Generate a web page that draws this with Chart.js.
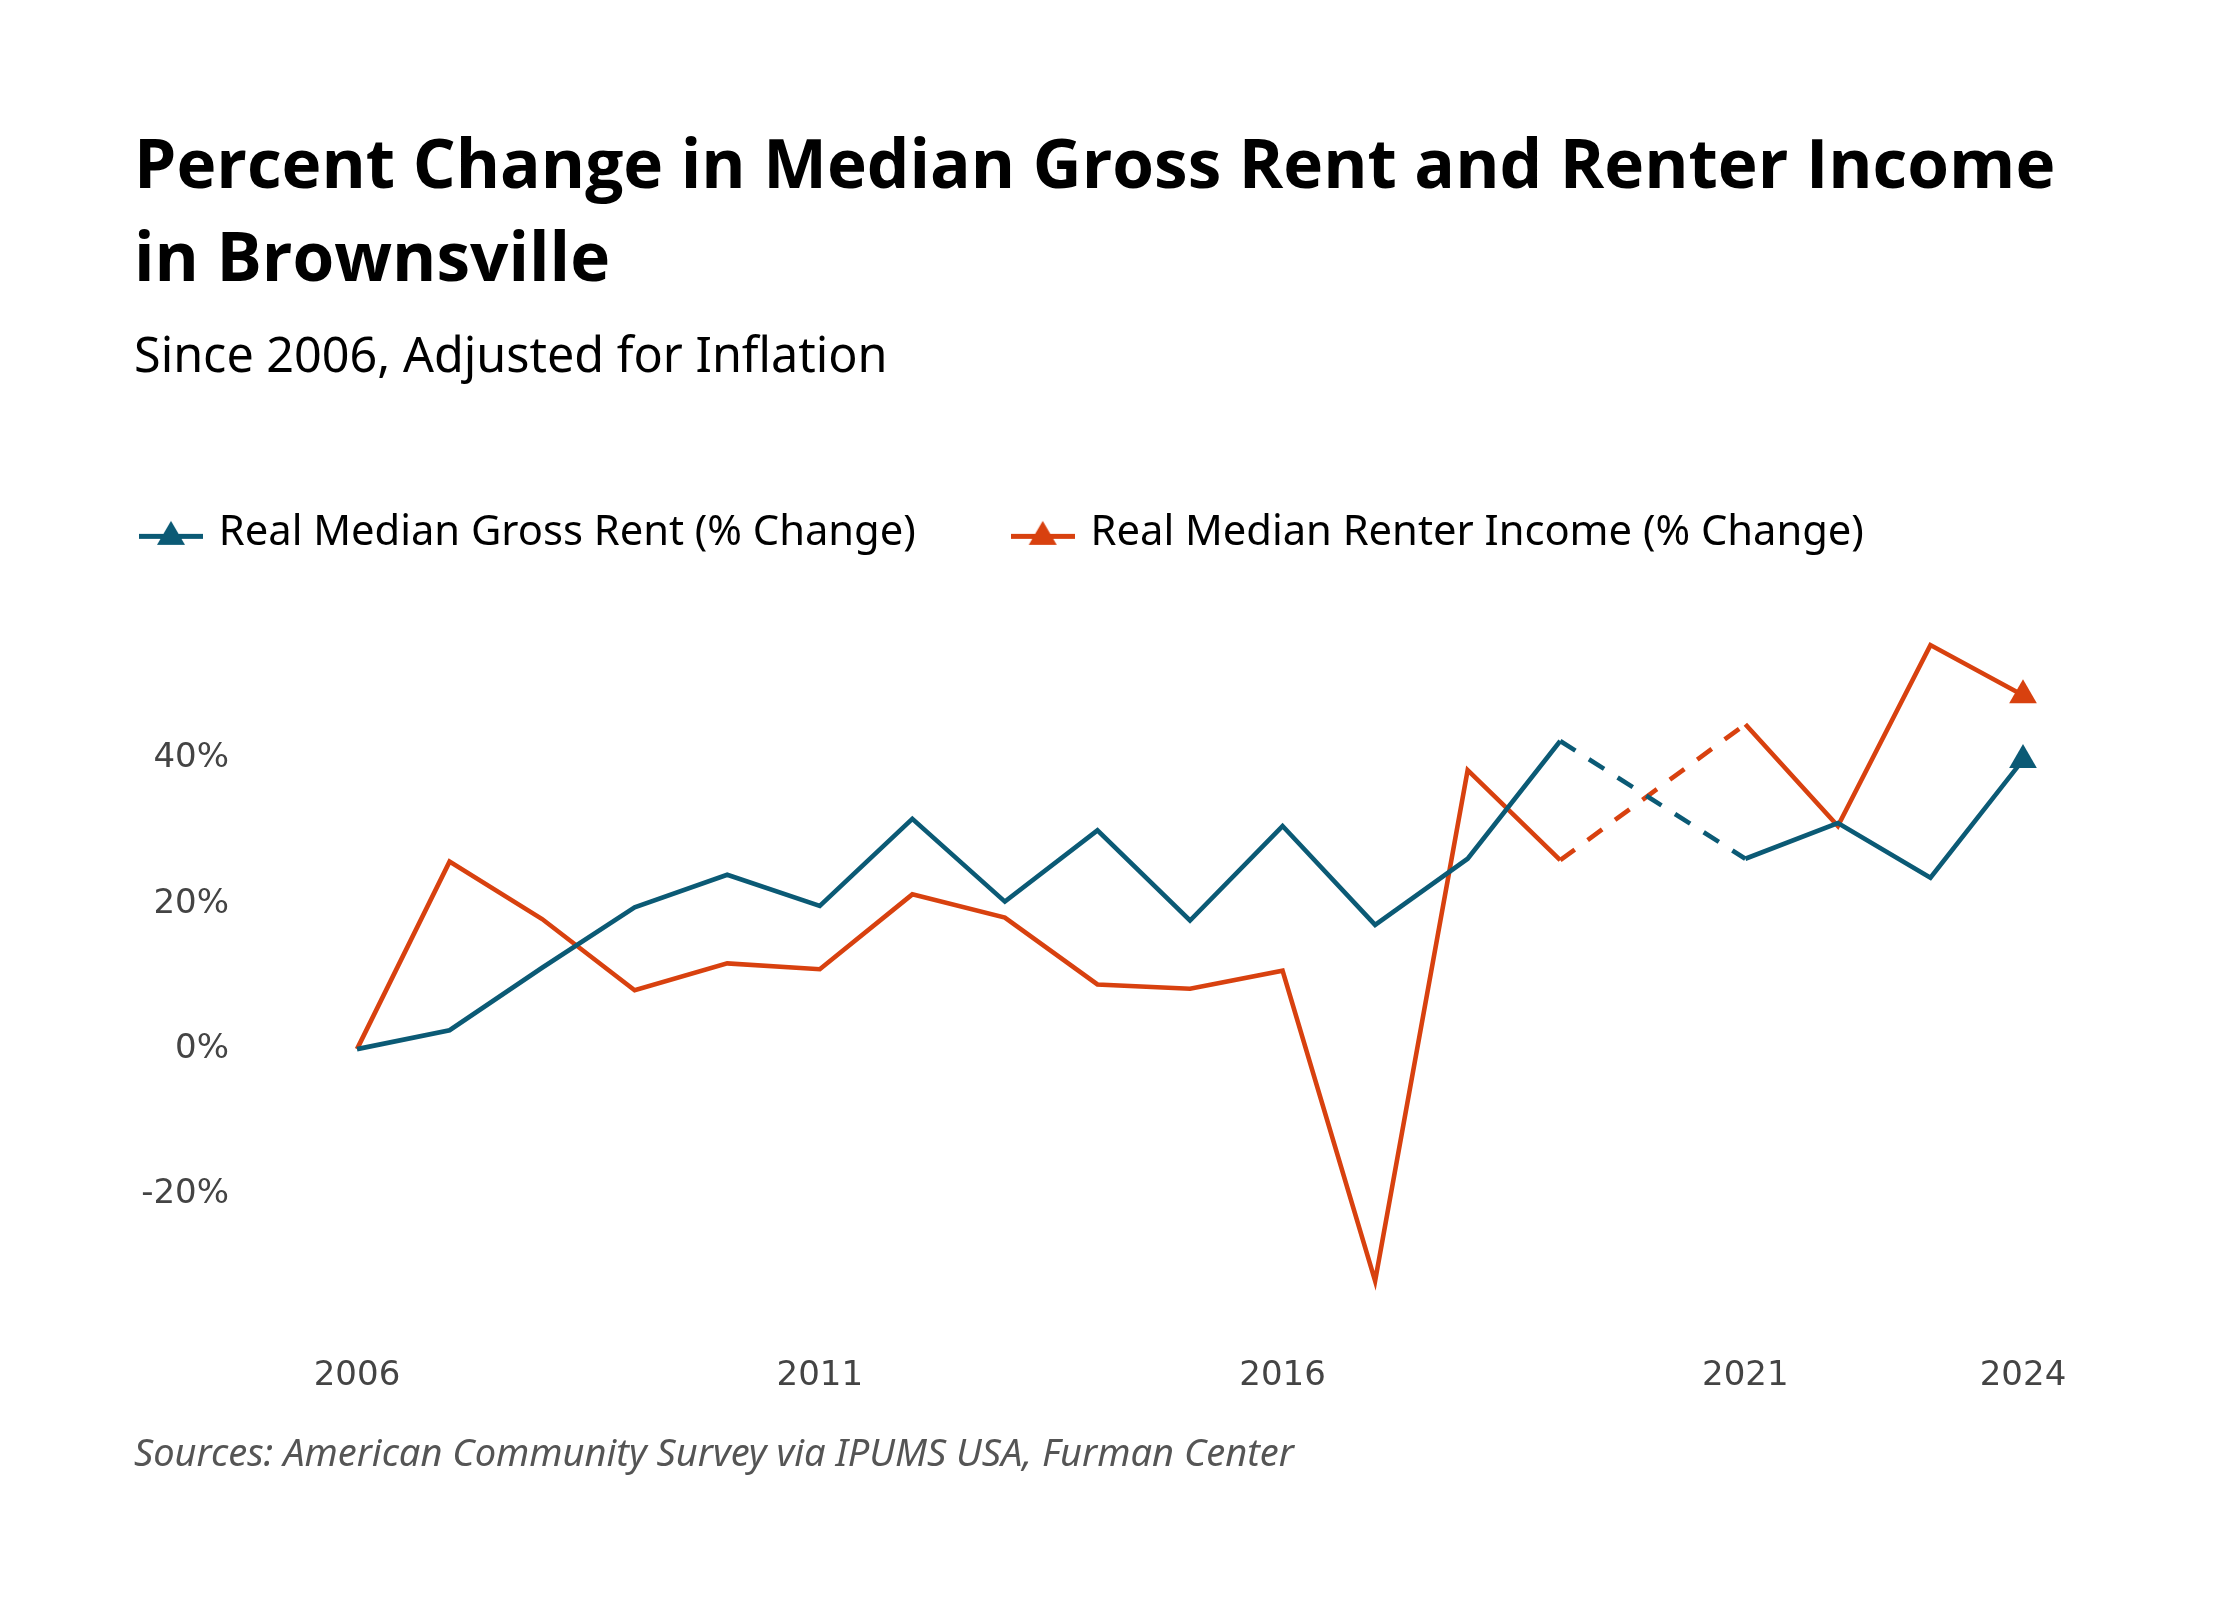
<!DOCTYPE html>
<html>
<head>
<meta charset="utf-8">
<script src="https://cdn.jsdelivr.net/npm/chart.js@4.4.1/dist/chart.umd.min.js"></script>
<style>
  body { margin: 0; background: #fff; width: 2240px; height: 1600px; position: relative; font-family: "Noto Sans", sans-serif; }
  #title { position: absolute; left: 134px; top: 116px; font-family: "Open Sans", sans-serif; font-weight: 700; font-size: 67.5px; line-height: 93px; color: #000; margin: 0; }
  #subtitle { position: absolute; left: 134px; top: 320px; font-size: 48.5px; color: #000; margin: 0; }
  #source { position: absolute; left: 134px; top: 1425px; font-size: 38px; font-style: italic; color: #555; margin: 0; }
  #wrap { position: absolute; left: 0; top: 412px; width: 2240px; height: 1057px; }
</style>
</head>
<body>
<h1 id="title">Percent Change in Median Gross Rent and Renter Income<br>in Brownsville</h1>
<p id="subtitle">Since 2006, Adjusted for Inflation</p>
<div id="wrap"><canvas id="grafico"></canvas></div>
<p id="source">Sources: American Community Survey via IPUMS USA, Furman Center</p>
<script>
const anos = ["2006", "2007", "2008", "2009", "2010", "2011", "2012", "2013", "2014", "2015",
  "2016", "2017", "2018", "2019", "2020", "2021", "2022", "2023", "2024"];
// 2020 sem dado (linha tracejada)
const aluguel = [0, 2.6, 11.2, 19.5, 24, 19.7, 31.7, 20.3, 30.1, 17.7,
  30.7, 17.1, 26.2, 42.4, null, 26.2, 31.1, 23.6, 39.8];
const renda = [0, 25.8, 17.9, 8.1, 11.8, 11.0, 21.3, 18.1, 8.9, 8.3,
  10.8, -31.9, 38.4, 26.0, null, 44.7, 30.7, 55.6, 48.7];
const rotulosX = ["2006", "2011", "2016", "2021", "2024"];
const ticksY = [-20, 0, 20, 40];

const azul = "#0b5a75";
const laranja = "#d8410f";

// marcador da legenda: linha com triangulo
function marcador(cor) {
  const c = document.createElement("canvas");
  c.width = 64;
  c.height = 30;
  const g = c.getContext("2d");
  g.fillStyle = cor;
  g.fillRect(0, 16, 64, 5);
  g.beginPath();
  g.moveTo(32, 3);
  g.lineTo(46, 27);
  g.lineTo(18, 27);
  g.closePath();
  g.fill();
  return c;
}

const tracejado = (ctx) => (ctx.p0.skip || ctx.p1.skip ? [18, 16] : undefined);
const ultimo = (n) => anos.map((a, i) => (i === anos.length - 1 ? n : 0));

function serie(label, dados, cor) {
  return {
    label: label,
    data: dados,
    borderColor: cor,
    backgroundColor: cor,
    borderWidth: 4.6,
    pointStyle: "triangle",
    pointRadius: ultimo(16),
    pointHoverRadius: ultimo(16),
    pointBorderWidth: 0,
    tension: 0,
    spanGaps: true,
    clip: false,
    segment: { borderDash: tracejado },
  };
}

const ctx = document.getElementById("grafico");
new Chart(ctx, {
  type: "line",
  data: {
    labels: anos,
    datasets: [
      serie("Real Median Gross Rent (% Change)", aluguel, azul),
      serie("Real Median Renter Income (% Change)", renda, laranja),
    ],
  },
  options: {
    responsive: true,
    maintainAspectRatio: false,
    animation: false,
    layout: { padding: { top: 0, left: 44, right: 217, bottom: 20 } },
    plugins: {
      tooltip: { enabled: false },
      legend: {
        align: "start",
        labels: {
          font: { family: "Noto Sans", size: 41.7 },
          color: "#000",
          padding: 100,
          usePointStyle: true,
          pointStyleWidth: 54,
          generateLabels: (chart) =>
            chart.data.datasets.map((ds, i) => ({
              text: ds.label,
              pointStyle: marcador(ds.borderColor),
              fillStyle: ds.borderColor,
              strokeStyle: ds.borderColor,
              lineWidth: 0,
              datasetIndex: i,
              fontColor: "#000",
            })),
        },
      },
    },
    scales: {
      x: {
        offset: false,
        grid: { display: false },
        border: { display: false },
        ticks: {
          autoSkip: false,
          maxRotation: 0,
          padding: 52,
          color: "#444",
          font: { family: "DejaVu Sans", size: 34 },
          callback: function (v) {
            const a = this.getLabelForValue(v);
            return rotulosX.includes(a) ? a : "";
          },
        },
      },
      y: {
        min: -34,
        max: 66.8,
        grid: { display: false },
        border: { display: false },
        afterBuildTicks: (eixo) => {
          eixo.ticks = ticksY.map((v) => ({ value: v }));
        },
        afterFit: (eixo) => {
          eixo.width = 313;
        },
        ticks: {
          padding: 120,
          color: "#444",
          font: { family: "DejaVu Sans", size: 34 },
          callback: (v) => v + "%",
        },
      },
    },
  },
});
</script>
</body>
</html>
